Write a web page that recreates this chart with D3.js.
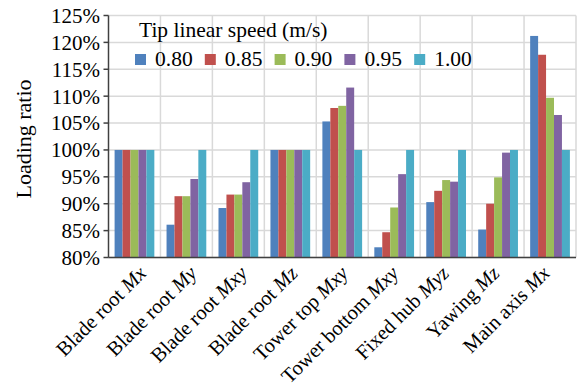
<!DOCTYPE html>
<html>
<head>
<meta charset="utf-8">
<script src="https://cdn.jsdelivr.net/npm/d3@7"></script>
<style>
  body { margin: 0; background: #fff; }
  svg text { font-family: "Liberation Serif", "Times New Roman", serif; fill: #000; }
</style>
</head>
<body>
<svg id="chart"></svg>
<script>
// categories, split into plain part and italic part
var categories = [
  ['Blade root ', 'Mx'],
  ['Blade root ', 'My'],
  ['Blade root ', 'Mxy'],
  ['Blade root ', 'Mz'],
  ['Tower top ', 'Mxy'],
  ['Tower bottom ', 'Mxy'],
  ['Fixed hub ', 'Myz'],
  ['Yawing ', 'Mz'],
  ['Main axis ', 'Mx']
];
var speeds = ['0.80', '0.85', '0.90', '0.95', '1.00'];
var colors = ['#4f81bd', '#c0504d', '#9bbb59', '#8064a2', '#4bacc6'];

// loading ratio (%) per speed, one value per category
var v080 = [100, 86.1, 89.2, 100, 105.3, 81.9, 90.3, 85.2, 121.2];
var v085 = [100, 91.4, 91.7, 100, 107.8, 84.7, 92.4, 90.0, 117.7];
var v090 = [100, 91.4, 91.7, 100, 108.2, 89.3, 94.4, 94.9, 109.7];
var v095 = [100, 94.6, 94.0, 100, 111.6, 95.5, 94.1, 99.5, 106.5];
var v100 = [100, 100, 100, 100, 100, 100, 100, 100, 100];
var series = [v080, v085, v090, v095, v100];

var yTicks = [80, 85, 90, 95, 100, 105, 110, 115, 120, 125];

var width = 581, height = 387;
var plotL = 108.5, plotR = 576, plotT = 15.5, plotB = 257.5;

var svg = d3.select('#chart').attr('width', width).attr('height', height);

var x = d3.scaleBand().domain(d3.range(categories.length)).range([plotL, plotR]).padding(0);
var gap = x.bandwidth() * 0.235;
var xs = d3.scaleBand().domain(d3.range(speeds.length))
  .range([gap / 2, x.bandwidth() - gap / 2]).padding(0);
var y = d3.scaleLinear().domain([80, 125]).range([plotB, plotT]);
// excel spaces the rotated labels a bit tighter than the bars
var xLab = d3.scalePoint().domain(d3.range(categories.length)).range([plotL + 39, plotR - 25]);

// grid
var grid = svg.append('g').attr('stroke', '#d9d9d9').attr('stroke-width', 1.5);
grid.selectAll('.hg').data(yTicks).enter().append('line')
  .attr('x1', plotL).attr('x2', plotR)
  .attr('y1', function(d) { return y(d); }).attr('y2', function(d) { return y(d); });
grid.selectAll('.vg').data(d3.range(1, categories.length + 1)).enter().append('line')
  .attr('x1', function(d) { return plotL + d * x.step(); })
  .attr('x2', function(d) { return plotL + d * x.step(); })
  .attr('y1', plotT).attr('y2', plotB);

// bars
series.forEach(function(vals, s) {
  svg.append('g').attr('fill', colors[s])
    .selectAll('rect').data(vals).enter().append('rect')
    .attr('x', function(d, i) { return x(i) + xs(s); })
    .attr('width', xs.bandwidth())
    .attr('y', function(d) { return y(d); })
    .attr('height', function(d) { return plotB - y(d); });
});

// axes lines
var ax = svg.append('g').attr('stroke', '#404040').attr('stroke-width', 1.5);
ax.append('line').attr('x1', plotL).attr('x2', plotL).attr('y1', plotT).attr('y2', plotB);
ax.append('line').attr('x1', plotL).attr('x2', plotR).attr('y1', plotB).attr('y2', plotB);
ax.selectAll('.tk').data(yTicks).enter().append('line')
  .attr('x1', plotL - 5).attr('x2', plotL)
  .attr('y1', function(d) { return y(d); }).attr('y2', function(d) { return y(d); });

// y tick labels
svg.append('g').selectAll('text').data(yTicks).enter().append('text')
  .attr('x', 100).attr('y', function(d) { return y(d); })
  .attr('dy', '0.35em').attr('text-anchor', 'end')
  .style('font-size', '21px')
  .text(function(d) { return d + '%'; });

// y title
svg.append('text')
  .attr('transform', 'translate(31,139) rotate(-90)')
  .attr('text-anchor', 'middle')
  .style('font-size', '22px')
  .text('Loading ratio');

// x labels
var xl = svg.append('g').selectAll('text').data(categories).enter().append('text')
  .attr('transform', function(d, i) {
    return 'translate(' + xLab(i) + ',' + (plotB + 17) + ') rotate(-45)';
  })
  .attr('text-anchor', 'end')
  .style('font-size', '20.5px');
xl.append('tspan').text(function(d) { return d[0]; });
xl.append('tspan').style('font-style', 'italic').text(function(d) { return d[1]; });

// legend
svg.append('text').attr('x', 139).attr('y', 37)
  .style('font-size', '21.5px').text('Tip linear speed (m/s)');
var lg = svg.append('g').selectAll('g').data(speeds).enter().append('g')
  .attr('transform', function(d, i) { return 'translate(' + (135 + i * 69.8) + ',54)'; });
lg.append('rect').attr('width', 11).attr('height', 11)
  .attr('fill', function(d, i) { return colors[i]; });
lg.append('text').attr('x', 20).attr('y', 11.5)
  .style('font-size', '21.5px').text(function(d) { return d; });
</script>
</body>
</html>
